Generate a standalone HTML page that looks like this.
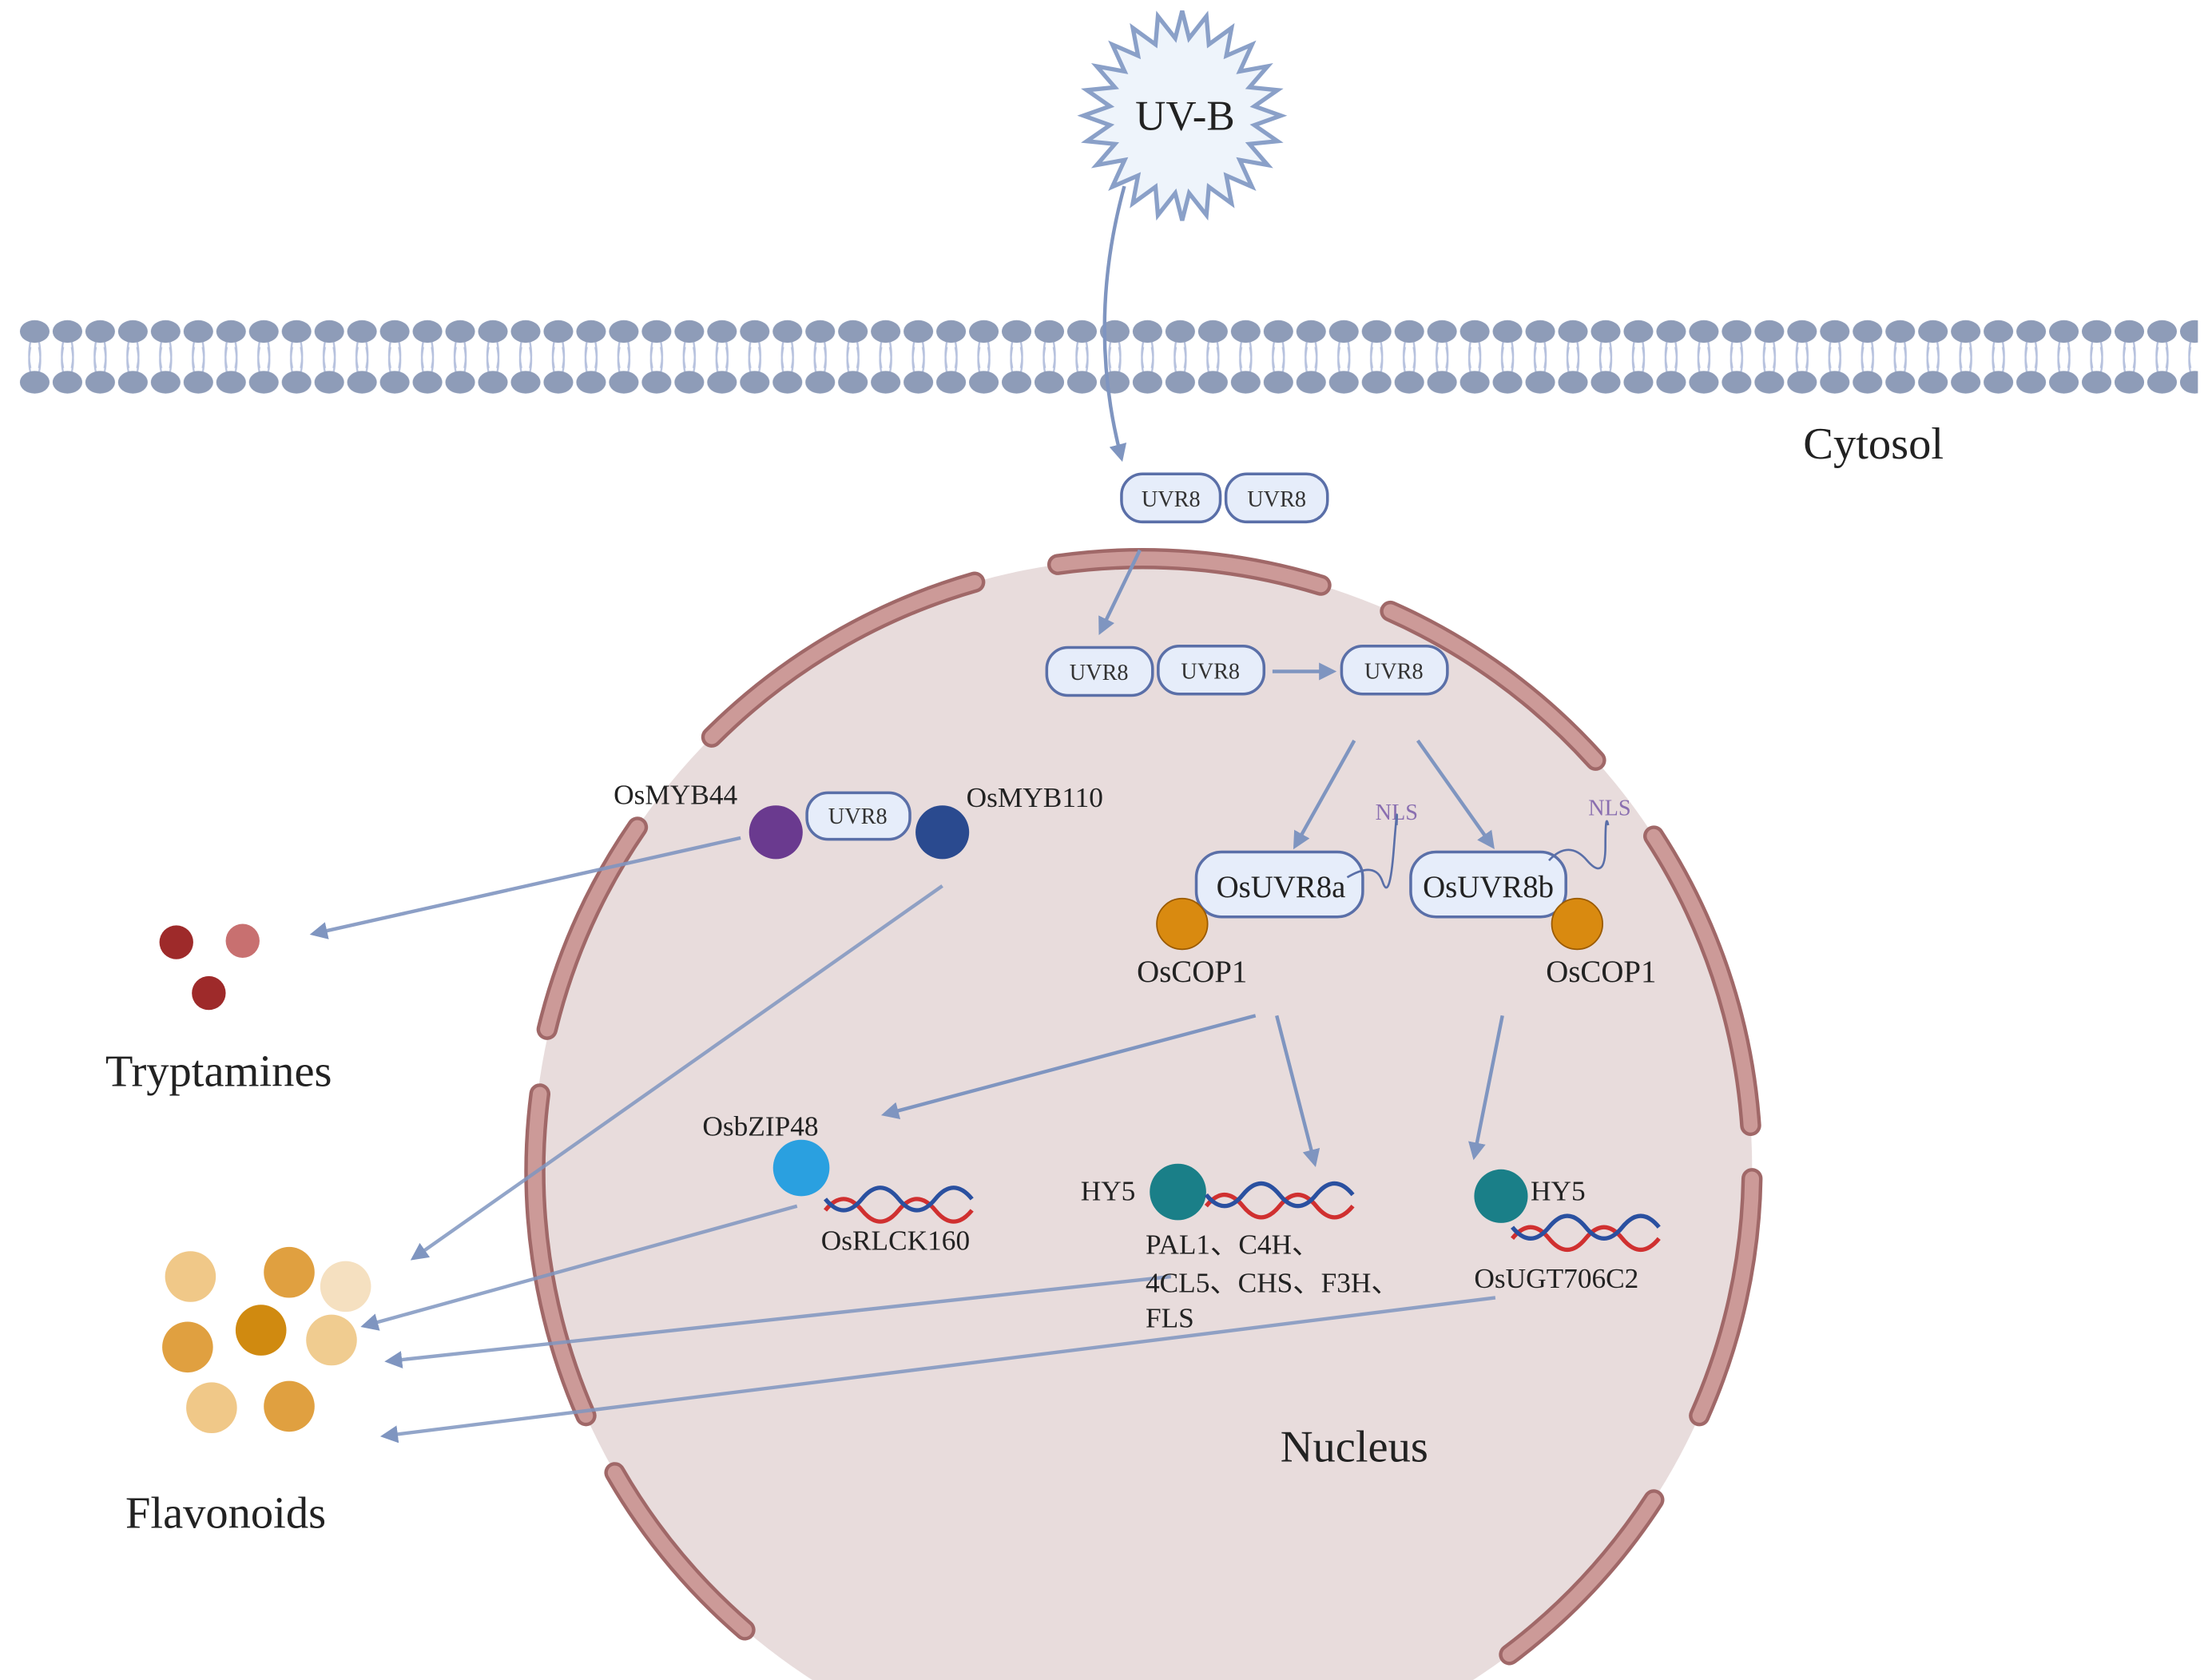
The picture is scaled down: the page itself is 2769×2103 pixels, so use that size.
<!DOCTYPE html>
<html><head><meta charset="utf-8"><style>html,body{margin:0;padding:0;background:#fff;overflow:hidden;width:2769px;height:2103px}svg{display:block}text{font-family:"Liberation Serif",serif}</style></head><body>
<svg width="2769" height="2103" viewBox="0 0 1568 1191" preserveAspectRatio="none" xmlns="http://www.w3.org/2000/svg">
<defs>
<marker id="ah" viewBox="0 0 10 10" refX="8" refY="5" markerWidth="5" markerHeight="5" orient="auto"><path d="M0,0L10,5L0,10z" fill="#7f95c0"/></marker>
<pattern id="lip" x="13" y="226" width="23.2" height="54" patternUnits="userSpaceOnUse">
<path d="M8.6,16 Q6.6,26 8.6,35 M14.6,16 Q16.6,26 14.6,35 M8.6,20 Q6.6,30 8.6,38 M14.6,20 Q16.6,30 14.6,38" stroke="#b7c2de" stroke-width="1.3" fill="none"/>
<ellipse cx="11.6" cy="9" rx="10.5" ry="8" fill="#8e9cb8"/>
<ellipse cx="11.6" cy="45" rx="10.5" ry="8" fill="#8e9cb8"/>
</pattern>
</defs>
<rect x="13" y="226" width="1545" height="54" fill="url(#lip)"/>
<!-- nucleus -->
<circle cx="810" cy="828" r="432" fill="#e8dcdc"/>
<g fill="none" stroke-linecap="round">
<path stroke="#a06868" stroke-width="15" d="M749.87,400.2A432,432 0 0 1 936.31,414.87M985.64,433.34A432,432 0 0 1 1131.04,538.94M1172.32,592.72A432,432 0 0 1 1240.95,797.86M1241.93,835.54A432,432 0 0 1 1204.67,1003.6M1172.32,1063.28A432,432 0 0 1 1070.0,1173.0M690.92,412.73A432,432 0 0 0 504.53,522.53M451.85,586.43A432,432 0 0 0 387.83,729.76M382.67,775.56A432,432 0 0 0 415.33,1003.6M435.84,1044.0A432,432 0 0 0 528.0,1155.5"/>
<path stroke="#cc9a98" stroke-width="10" d="M749.87,400.2A432,432 0 0 1 936.31,414.87M985.64,433.34A432,432 0 0 1 1131.04,538.94M1172.32,592.72A432,432 0 0 1 1240.95,797.86M1241.93,835.54A432,432 0 0 1 1204.67,1003.6M1172.32,1063.28A432,432 0 0 1 1070.0,1173.0M690.92,412.73A432,432 0 0 0 504.53,522.53M451.85,586.43A432,432 0 0 0 387.83,729.76M382.67,775.56A432,432 0 0 0 415.33,1003.6M435.84,1044.0A432,432 0 0 0 528.0,1155.5"/>
</g>
<!-- UV-B star -->
<polygon fill="#eef4fb" stroke="#8aa0c8" stroke-width="3" points="908,82 889.2,88.7 905.6,100.1 885.7,102.1 898.6,117 878.8,113.4 887.5,132.4 869.3,124.5 873,144.2 856.9,132.5 855.2,152.5 842.9,136.9 838,156.3 833.1,136.9 820.8,152.5 819.1,132.5 803,144.2 806.7,124.5 788.5,132.4 797.2,113.4 777.4,117 790.3,102.1 770.4,100.1 786.8,88.7 768,82 786.8,75.3 770.4,63.9 790.3,61.9 777.4,47 797.2,50.6 788.5,31.6 806.7,39.5 803,19.8 819.1,31.5 820.8,11.5 833.1,27.1 838,7.7 842.9,27.1 855.2,11.5 856.9,31.5 873,19.8 869.3,39.5 887.5,31.6 878.8,50.6 898.6,47 885.7,61.9 905.6,63.9 889.2,75.3"/>
<text x="840" y="92" font-size="30" text-anchor="middle" fill="#222">UV-B</text>
<path d="M797,132 Q770,230 795,325" stroke="#7f95c0" stroke-width="2.5" fill="none" marker-end="url(#ah)"/>
<text x="1328" y="325" font-size="32" text-anchor="middle" fill="#222">Cytosol</text>
<g fill="#e6edfa" stroke="#5a6fa8" stroke-width="2">
<rect x="795" y="336" width="70" height="34" rx="15"/><rect x="869" y="336" width="72" height="34" rx="15"/>
<rect x="742" y="459" width="75" height="34" rx="15"/><rect x="821" y="458" width="75" height="34" rx="15"/>
<rect x="951" y="458" width="75" height="34" rx="15"/>
<rect x="572" y="562" width="73" height="33" rx="15"/>
<rect x="848" y="604" width="118" height="46" rx="18"/><rect x="1000" y="604" width="110" height="46" rx="18"/>
</g>
<g font-size="16" fill="#333" text-anchor="middle">
<text x="830" y="359">UVR8</text><text x="905" y="359">UVR8</text>
<text x="779" y="482">UVR8</text><text x="858" y="481">UVR8</text><text x="988" y="481">UVR8</text>
<text x="608" y="584">UVR8</text>
</g>
<g font-size="22" fill="#222" text-anchor="middle">
<text x="908" y="636">OsUVR8a</text><text x="1055" y="636">OsUVR8b</text>
<text x="845" y="696">OsCOP1</text><text x="1135" y="696">OsCOP1</text>
</g>
<g font-size="16" fill="#8a6fb0" text-anchor="middle"><text x="990" y="581">NLS</text><text x="1141" y="578">NLS</text></g>
<path d="M955,622 Q975,610 980,625 T988,602 T990,585" stroke="#5a6fa8" stroke-width="1.5" fill="none"/>
<path d="M1098,610 Q1112,595 1125,610 T1138,600 T1140,585" stroke="#5a6fa8" stroke-width="1.5" fill="none"/>
<g stroke="#7f95c0" stroke-width="2.5" fill="none" marker-end="url(#ah)">
<path d="M808,390 L780,448"/>
<path d="M902,476 L945,476"/>
<path d="M960,525 L918,600"/>
<path d="M1005,525 L1058,600"/>
<path d="M890,720 L627,790"/>
<path d="M905,720 L932,825"/>
<path d="M1065,720 L1045,820"/>
<path d="M525,594 L222,662" stroke-opacity="0.9"/>
<path d="M668,628 L293,892" stroke-opacity="0.85"/>
<path d="M565,855 L258,940" stroke-opacity="0.85"/>
<path d="M830,905 L275,965" stroke-opacity="0.85"/>
<path d="M1060,920 L272,1018" stroke-opacity="0.85"/>
</g>
<g>
<circle cx="838" cy="655" r="18" fill="#d98a10" stroke="#9a5a00"/>
<circle cx="1118" cy="655" r="18" fill="#d98a10" stroke="#9a5a00"/>
<circle cx="550" cy="590" r="19" fill="#6a3a8f"/>
<circle cx="668" cy="590" r="19" fill="#2a4a8f"/>
<circle cx="568" cy="828" r="20" fill="#2aa0e0"/>
<circle cx="835" cy="845" r="20" fill="#1a7f88"/>
<circle cx="1064" cy="848" r="19" fill="#1a7f88"/>
<circle cx="125" cy="668" r="12" fill="#9e2a2a"/><circle cx="172" cy="667" r="12" fill="#c87070"/><circle cx="148" cy="704" r="12" fill="#9e2a2a"/>
<circle cx="135" cy="905" r="18" fill="#f0c888"/><circle cx="205" cy="902" r="18" fill="#e0a040"/><circle cx="245" cy="912" r="18" fill="#f5e0c0"/>
<circle cx="133" cy="955" r="18" fill="#e0a040"/><circle cx="185" cy="943" r="18" fill="#d08a10"/><circle cx="235" cy="950" r="18" fill="#f0cc90"/>
<circle cx="150" cy="998" r="18" fill="#f0c888"/><circle cx="205" cy="997" r="18" fill="#e0a040"/>
</g>
<g fill="none" stroke-width="3">
<path d="M585,858 q13,-16 26,0 t26,0 t26,0 t26,0" stroke="#d03030"/><path d="M585,850 q13,16 26,0 t26,0 t26,0 t26,0" stroke="#2a50a0"/>
<path d="M855,855 q13,-16 26,0 t26,0 t26,0 t26,0" stroke="#d03030"/><path d="M855,847 q13,16 26,0 t26,0 t26,0 t26,0" stroke="#2a50a0"/>
<path d="M1072,878 q13,-16 26,0 t26,0 t26,0 t26,0" stroke="#d03030"/><path d="M1072,870 q13,16 26,0 t26,0 t26,0 t26,0" stroke="#2a50a0"/>
</g>
<g font-size="20" fill="#222">
<text x="435" y="570">OsMYB44</text><text x="685" y="572">OsMYB110</text>
<text x="498" y="805">OsbZIP48</text><text x="582" y="886">OsRLCK160</text>
<text x="766" y="851">HY5</text><text x="1085" y="851">HY5</text>
<text x="812" y="889">PAL1、C4H、</text><text x="812" y="916">4CL5、CHS、F3H、</text><text x="812" y="941">FLS</text>
<text x="1045" y="913">OsUGT706C2</text>
</g>
<g font-size="32" fill="#222" text-anchor="middle">
<text x="155" y="770">Tryptamines</text><text x="160" y="1083">Flavonoids</text><text x="960" y="1036">Nucleus</text>
</g>
</svg>
</body></html>
